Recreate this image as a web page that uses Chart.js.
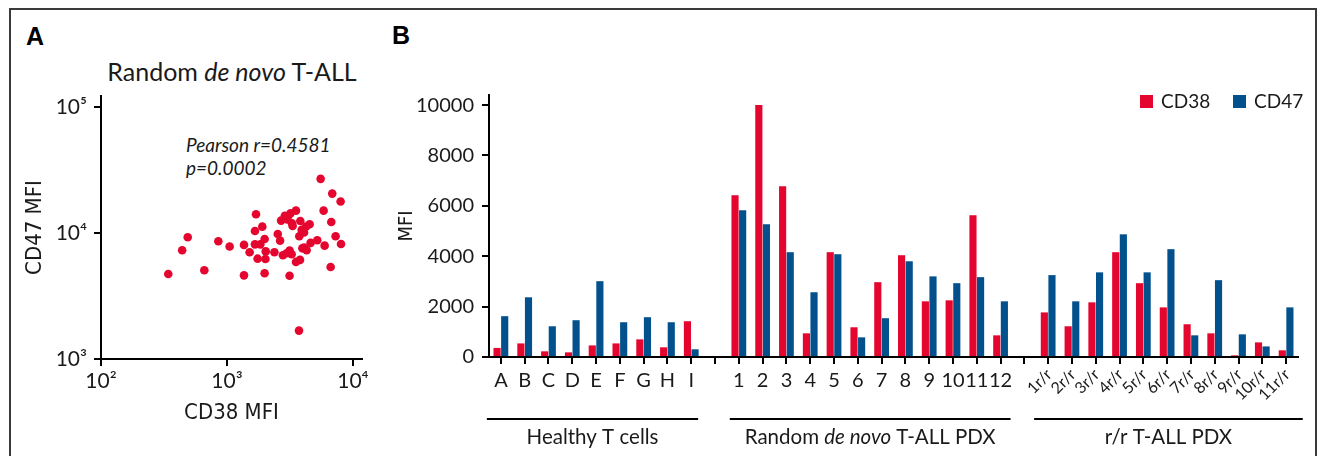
<!DOCTYPE html>
<html><head><meta charset="utf-8">
<script src="https://cdn.jsdelivr.net/npm/chart.js@4/dist/chart.umd.min.js"></script>
<style>
html,body{margin:0;padding:0;background:#fff;width:1319px;height:456px;overflow:hidden;}
#frame{position:absolute;left:9px;top:8px;width:1308px;height:480px;border:2px solid #3a3a3a;box-sizing:border-box;}
.pl{position:absolute;font-family:'Liberation Sans',Arial,sans-serif;font-weight:bold;font-size:25px;color:#000;line-height:30px;}
#ttlA{position:absolute;left:0;top:57px;width:464px;text-align:center;font-family:Lato,sans-serif;font-size:25px;line-height:28px;color:#1a1a1a;}
.ann{position:absolute;left:186px;font-family:Lato,sans-serif;font-style:italic;font-size:19px;line-height:22px;color:#1a1a1a;}
canvas{position:absolute;top:0;}
</style></head>
<body>
<div id="frame"></div>
<div class="pl" style="left:26px;top:21px;">A</div>
<div class="pl" style="left:392px;top:20px;">B</div>
<div id="ttlA">Random <i>de novo</i> T-ALL</div>
<div class="ann" style="top:134px;">Pearson r=0.4581</div>
<div class="ann" style="top:157px;">p=0.0002</div>
<canvas id="cA" width="390" height="456" style="left:0;"></canvas>
<canvas id="cB" width="929" height="456" style="left:390px;"></canvas>
<script>
// ---- Panel A data (CD38 MFI vs CD47 MFI, random de novo T-ALL) ----
const scatterCD38 = [342,441,488,661,854,1050,1365,1365,1513,1700,1668,1668,1750,1840,1907,1990,1990,2030,2020,2380,2530,2640,2690,2780,2880,3080,3140,3200,3140,3260,3280,3530,3530,3730,3750,3800,3820,3920,3970,4090,4290,4240,4530,4610,5210,5540,5850,5960,6650,6730,6850,7280,7980,8040,3010,3320,4090,2980];
const scatterCD47 = [4730,7280,9250,5060,8590,7800,4610,8040,7030,14060,10370,8120,6250,8120,11220,8950,4790,7140,6220,7030,9820,8690,12530,6650,13650,13740,7240,14330,4580,6780,11940,15030,5890,1680,9420,6110,12450,10570,7550,10070,7280,11220,11720,8340,8750,26850,15030,7930,5370,12210,20510,9420,17740,8180,12820,11370,7660,6900];
const logTicksA = [100,1000,10000];
const logTicksAy = [1000,10000,100000];

// ---- Panel B data ----
const healthyLabels = ['A','B','C','D','E','F','G','H','I'];
const healthyCD38 = [360,540,225,185,460,540,700,385,1420];
const healthyCD47 = [1620,2370,1220,1460,3010,1380,1580,1380,305];
const denovoLabels = ['1','2','3','4','5','6','7','8','9','10','11','12'];
const denovoCD38 = [6420,10000,6780,940,4160,1180,2970,4040,2210,2250,5630,860];
const denovoCD47 = [5830,5270,4160,2570,4080,780,1540,3800,3200,2930,3170,2210];
const rrLabels = ['1r/r','2r/r','3r/r','4r/r','5r/r','6r/r','7r/r','8r/r','9r/r','10r/r','11r/r'];
const rrCD38 = [1770,1220,2170,4160,2930,1970,1300,940,66,580,265];
const rrCD47 = [3250,2210,3360,4870,3360,4280,860,3050,900,420,1970];
const groupNames = [['Healthy T cells'], ['Random ','de novo',' T-ALL PDX'], ['r/r T-ALL PDX']];
const yTicksB = [0,2000,4000,6000,8000,10000];

const RED = '#E4062E', BLUE = '#02518C', INK = '#1a1a1a';
const NARROW = "'Liberation Sans Narrow','DejaVu Sans Condensed',sans-serif";
const SANS = "Lato,'Noto Sans',sans-serif";
const sup = {2:'\u00B2',3:'\u00B3',4:'\u2074',5:'\u2075'};

// ---------- Panel A ----------
new Chart(document.getElementById('cA'), {
  type: 'scatter',
  data: { datasets: [{ data: scatterCD38.map((x,i)=>({x:x, y:scatterCD47[i]})), backgroundColor: RED, borderColor: RED, borderWidth: 0, pointRadius: 4.3 }] },
  options: {
    responsive:false, animation:false, devicePixelRatio:1,
    layout:{padding:{left:18, top:96, right:28, bottom:26}},
    plugins:{legend:{display:false}, tooltip:{enabled:false}},
    scales:{
      x:{ type:'logarithmic', min:100, max:11800,
        grid:{drawOnChartArea:false, drawTicks:true, tickLength:7, color:'#000', lineWidth:2},
        border:{color:'#000', width:2},
        ticks:{color:INK, font:{family:SANS, size:21}, padding:3, maxRotation:0, autoSkip:false,
          callback:(v)=>'10'+sup[Math.round(Math.log10(v))]},
        afterBuildTicks:(s)=>{ s.ticks = logTicksA.map(v=>({value:v})); },
        title:{display:true, text:'CD38 MFI', color:INK, font:{family:NARROW, size:22}, padding:{top:4,bottom:4}},
        afterFit:(s)=>{ s.height = 71; }
      },
      y:{ type:'logarithmic', min:1000, max:122000,
        grid:{drawOnChartArea:false, drawTicks:true, tickLength:7, color:'#000', lineWidth:2},
        border:{color:'#000', width:2},
        ticks:{color:INK, font:{family:SANS, size:21}, padding:7, autoSkip:false,
          callback:(v)=>'10'+sup[Math.round(Math.log10(v))]},
        afterBuildTicks:(s)=>{ s.ticks = logTicksAy.map(v=>({value:v})); },
        title:{display:true, text:'CD47 MFI', color:INK, font:{family:NARROW, size:22}, padding:{top:4,bottom:4}},
        afterFit:(s)=>{ s.width = 83; }
      }
    }
  }
});

// ---------- Panel B ----------
const allLabels = [...healthyLabels, '', ...denovoLabels, '', ...rrLabels];
const cd38All = [...healthyCD38, null, ...denovoCD38, null, ...rrCD38];
const cd47All = [...healthyCD47, null, ...denovoCD47, null, ...rrCD47];
const groupSpans = [[-0.59, 8.29], [9.62, 21.42], [22.41, 33.7]];

const decor = {
  id:'decor',
  afterDraw(chart){
    const ctx = chart.ctx, xs = chart.scales.x, ca = chart.chartArea;
    ctx.save();
    ctx.fillStyle = INK;
    allLabels.forEach((lab,i)=>{
      if(!lab) return;
      const x = xs.getPixelForValue(i);
      if(lab.indexOf('r/r')>=0){
        ctx.save();
        ctx.translate(x+1, 372);
        ctx.rotate(-Math.PI/4);
        ctx.font = '16px ' + SANS;
        ctx.textAlign='right'; ctx.textBaseline='middle';
        ctx.fillText(lab,0,0);
        ctx.restore();
      } else {
        ctx.font = '20px ' + SANS;
        ctx.textAlign='center'; ctx.textBaseline='middle';
        ctx.fillText(lab, x, 381);
      }
    });
    groupSpans.forEach((sp,g)=>{
      const x0 = xs.getPixelForValue(sp[0]), x1 = xs.getPixelForValue(sp[1]);
      ctx.strokeStyle = '#000'; ctx.lineWidth = 2;
      ctx.beginPath(); ctx.moveTo(x0, 419); ctx.lineTo(x1, 419); ctx.stroke();
      const parts = groupNames[g];
      const fonts = parts.map((p,k)=> (parts.length===3 && k===1 ? 'italic ' : '') + '20.5px ' + SANS);
      let w = 0; const ws = parts.map((p,k)=>{ ctx.font = fonts[k]; const m = ctx.measureText(p).width; w += m; return m; });
      let cx = (x0+x1)/2 - w/2;
      ctx.textAlign='left'; ctx.textBaseline='middle';
      parts.forEach((p,k)=>{ ctx.font = fonts[k]; ctx.fillText(p, cx, 437); cx += ws[k]; });
    });
    const R = ca.right;
    ctx.font = '19px ' + SANS; ctx.textBaseline='middle'; ctx.textAlign='left';
    chart.data.datasets.forEach((ds,k)=>{
      const sx = R - 158 + k*93;
      ctx.fillStyle = ds.backgroundColor; ctx.fillRect(sx, ca.top, 13, 13);
      ctx.fillStyle = INK; ctx.fillText(ds.label, sx + 21, ca.top + 7);
    });
    ctx.restore();
  }
};

new Chart(document.getElementById('cB'), {
  type:'bar',
  data:{ labels: allLabels, datasets:[
    {label:'CD38', data: cd38All, backgroundColor: RED, categoryPercentage:0.64, barPercentage:0.94},
    {label:'CD47', data: cd47All, backgroundColor: BLUE, categoryPercentage:0.64, barPercentage:0.94}
  ]},
  options:{
    responsive:false, animation:false, devicePixelRatio:1,
    layout:{padding:{left:1, top:95, right:21, bottom:0}},
    plugins:{legend:{display:false}, tooltip:{enabled:false}},
    scales:{
      x:{ grid:{offset:false, drawOnChartArea:false, drawTicks:true, tickLength:7, color:'#000', lineWidth:2},
        border:{color:'#000', width:2},
        ticks:{display:false, autoSkip:false},
        afterFit:(s)=>{ s.height = 99; }
      },
      y:{ min:0, max:10400,
        grid:{drawOnChartArea:false, drawTicks:true, tickLength:7, color:'#000', lineWidth:2},
        border:{color:'#000', width:2},
        ticks:{color:INK, font:{family:SANS, size:20}, padding:8, autoSkip:false, callback:(v)=>String(v)},
        afterBuildTicks:(s)=>{ s.ticks = yTicksB.map(v=>({value:v})); },
        title:{display:true, text:'MFI', color:INK, font:{family:NARROW, size:20}, padding:{top:4,bottom:4}},
        afterFit:(s)=>{ s.width = 98; }
      }
    }
  },
  plugins:[decor]
});
</script>
</body></html>
